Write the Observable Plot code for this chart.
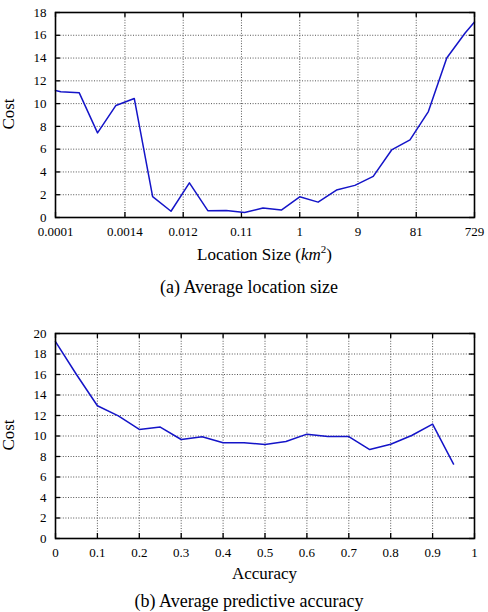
<!DOCTYPE html>
<html><head><meta charset="utf-8">
<script src="https://cdn.jsdelivr.net/npm/d3@7"></script>
<script src="https://cdn.jsdelivr.net/npm/@observablehq/plot@0.6"></script>
<style>
body{margin:0;background:#fff;font-family:"Liberation Serif",serif;color:#000;}
#wrap{position:relative;width:488px;height:612px;overflow:hidden;background:#fff;}
#wrap svg{position:absolute;left:0;}
.t{position:absolute;white-space:nowrap;height:24px;line-height:24px;text-align:center;transform:translateX(-50%);}
.ylab{position:absolute;white-space:nowrap;font-size:17px;height:20px;line-height:20px;transform:translate(-50%,-50%) rotate(-90deg);}
</style></head><body><div id="wrap"></div>
<script>
// ---- Chart (a): Average location size ----
const sizeKm2 = [0.0001, 0.000122, 0.000244, 0.000488, 0.000977, 0.00195, 0.0039, 0.0078, 0.0156, 0.03125, 0.0625, 0.125, 0.25, 0.5, 1, 2, 4, 8, 16, 32, 64, 128, 256, 512, 729];
const costA = [11.15, 11.04, 10.96, 7.43, 9.84, 10.45, 1.84, 0.55, 3.04, 0.6, 0.62, 0.44, 0.83, 0.65, 1.82, 1.35, 2.41, 2.82, 3.61, 5.93, 6.81, 9.3, 14.0, 16.2, 17.17];
const xTicksA = [0.0001, 0.001372, 0.01235, 0.1111, 1, 9, 81, 729];
const xTickLabelsA = ["0.0001", "0.0014", "0.012", "0.11", "1", "9", "81", "729"];
const yTicksA = [0, 2, 4, 6, 8, 10, 12, 14, 16, 18];

// ---- Chart (b): Average predictive accuracy ----
const accuracy = [0, 0.05, 0.1, 0.15, 0.2, 0.25, 0.3, 0.35, 0.4, 0.45, 0.5, 0.55, 0.6, 0.65, 0.7, 0.75, 0.8, 0.85, 0.9, 0.95];
const costB = [19.2, 16.0, 12.95, 11.97, 10.64, 10.87, 9.66, 9.92, 9.34, 9.34, 9.17, 9.46, 10.18, 9.95, 9.95, 8.68, 9.2, 10.05, 11.16, 7.26];
const xTicksB = [0, 0.1, 0.2, 0.3, 0.4, 0.5, 0.6, 0.7, 0.8, 0.9, 1];
const xTickLabelsB = ["0", "0.1", "0.2", "0.3", "0.4", "0.5", "0.6", "0.7", "0.8", "0.9", "1"];
const yTicksB = [0, 2, 4, 6, 8, 10, 12, 14, 16, 18, 20];

const W = 488, ML = 55, MR = 14;
const lineColor = "#1414c8";
const gridStyle = {stroke: "#555", strokeOpacity: 1, strokeWidth: 1, strokeDasharray: "1,1.6"};

function chart({xs, ys, xType, xDomain, xTicks, xLabels, yTicks, yDomain, height, mt, mb}) {
  const fh = height - mt - mb, fw = W - ML - MR;
  const data = xs.map((x, i) => ({x, y: ys[i]}));
  const xLab = xTicks.map((v, i) => ({v, label: xLabels[i]}));
  return Plot.plot({
    width: W, height, marginLeft: ML, marginRight: MR, marginTop: mt, marginBottom: mb,
    style: {fontFamily: "Liberation Serif, serif", fontSize: "13px", color: "#000", background: "transparent"},
    x: {type: xType, domain: xDomain, axis: null},
    y: {domain: yDomain},
    marks: [
      Plot.ruleX(xTicks, {...gridStyle}),
      Plot.ruleY(yTicks, {...gridStyle}),
      Plot.ruleX(xTicks, {insetTop: fh - 5, stroke: "#000", strokeWidth: 1.3}),
      Plot.ruleX(xTicks, {insetBottom: fh - 5, stroke: "#000", strokeWidth: 1.3}),
      Plot.ruleY(yTicks, {insetRight: fw - 5, stroke: "#000", strokeWidth: 1.3}),
      Plot.ruleY(yTicks, {insetLeft: fw - 5, stroke: "#000", strokeWidth: 1.3}),
      Plot.line(data, {x: "x", y: "y", stroke: lineColor, strokeWidth: 1.5}),
      Plot.frame({stroke: "#000", strokeWidth: 1.6}),
      Plot.text(xLab, {x: "v", text: "label", frameAnchor: "bottom", lineAnchor: "top", dy: 9, fontSize: 13, fill: "#000"}),
      Plot.axisY({ticks: yTicks, tickSize: 0, tickPadding: 9, label: null})
    ]
  });
}

const wrap = document.getElementById("wrap");

const svgA = chart({xs: sizeKm2, ys: costA, xType: "log", xDomain: [0.0001, 729], xTicks: xTicksA, xLabels: xTickLabelsA,
  yTicks: yTicksA, yDomain: [0, 18], height: 262, mt: 12, mb: 45});
svgA.style.top = "0px";
wrap.appendChild(svgA);

const svgB = chart({xs: accuracy, ys: costB, xType: "linear", xDomain: [0, 1], xTicks: xTicksB, xLabels: xTickLabelsB,
  yTicks: yTicksB, yDomain: [0, 20], height: 262, mt: 13, mb: 44});
svgB.style.top = "320px";
wrap.appendChild(svgB);

function addText(html, cx, cy, size, cls) {
  const d = document.createElement("div");
  d.className = cls || "t";
  d.innerHTML = html;
  d.style.left = cx + "px";
  if (cls === "ylab") { d.style.top = cy + "px"; }
  else { d.style.top = (cy - 12) + "px"; d.style.fontSize = size + "px"; }
  wrap.appendChild(d);
}
addText("Cost", 9, 114, 17, "ylab");
addText('Location Size (<i>km</i><sup style="font-size:11px;line-height:0">2</sup>)', 264.5, 255, 17);
addText("(a) Average location size", 249, 287, 18);
addText("Cost", 9, 435, 17, "ylab");
addText("Accuracy", 264.5, 574, 17);
addText("(b) Average predictive accuracy", 249, 601, 18);
</script></body></html>
